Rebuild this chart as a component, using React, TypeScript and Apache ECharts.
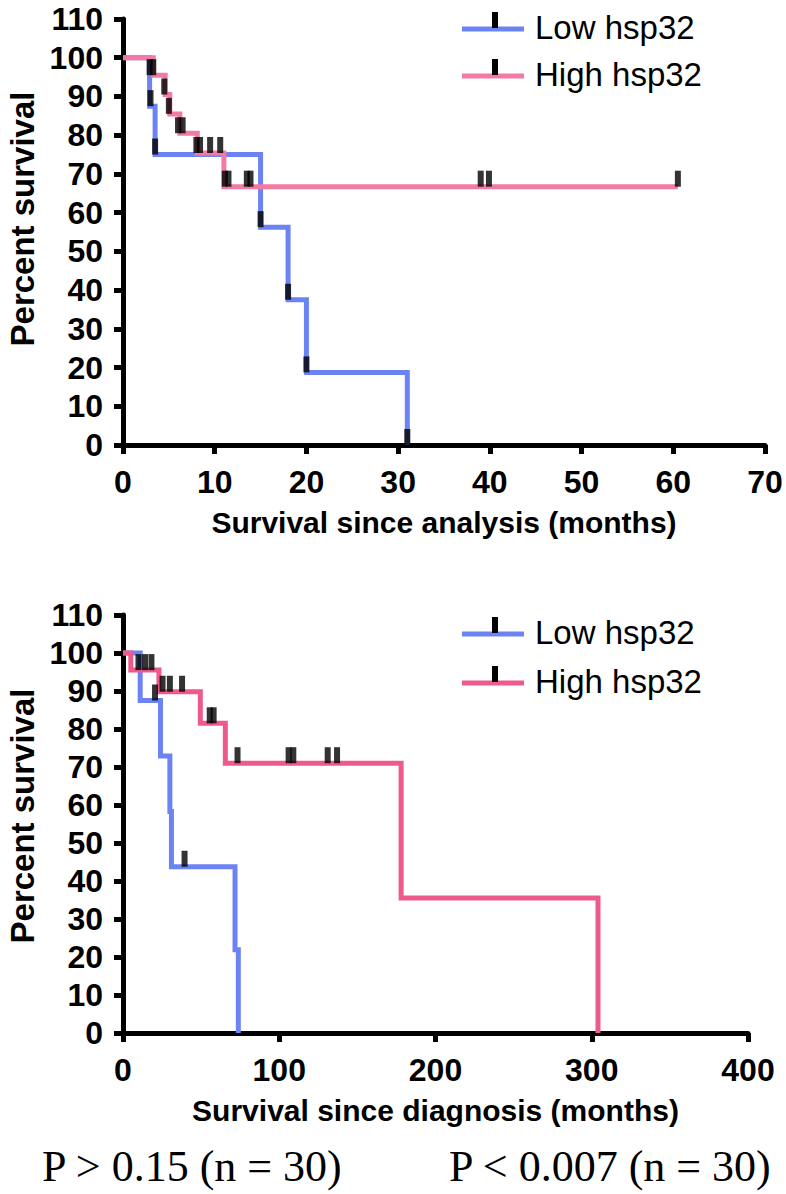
import React, { useEffect, useRef } from "react";
import * as echarts from "echarts";

// ---- Data: survival since analysis (top) ----
const lowAnalysisT = [0, 2.9, 3.5, 15, 18, 20, 31];
const lowAnalysisS = [100, 87.5, 75, 56.25, 37.5, 18.75, 0];
const highAnalysisT = [0, 3.3, 4.6, 5.1, 6.2, 8.1, 11, 60.5];
const highAnalysisS = [100, 95.5, 90.5, 85.5, 80.5, 75.4, 66.7, 66.7];
const lowAnalysisCensT = [3.0, 3.5, 15, 18, 20, 31];
const lowAnalysisCensS = [87.5, 75, 56.25, 37.5, 18.75, 0];
const highAnalysisCensT = [2.9, 3.3, 4.5, 5.0, 6.0, 6.5, 8.0, 8.4, 9.5, 10.6, 11.1, 11.5, 13.5, 13.9, 39.0, 39.9, 60.5];
const highAnalysisCensS = [95.5, 95.5, 90.5, 85.5, 80.5, 80.5, 75.4, 75.4, 75.4, 75.4, 66.7, 66.7, 66.7, 66.7, 66.7, 66.7, 66.7];

// ---- Data: survival since diagnosis (bottom) ----
const lowDiagT = [0, 11, 24, 30, 31, 71.7, 73.8];
const lowDiagS = [100, 87.5, 72.9, 58.3, 43.75, 21.9, 0];
const highDiagT = [0, 5, 23, 49.5, 65.5, 178, 304];
const highDiagS = [100, 95.5, 89.8, 81.5, 71, 35.5, 0];
const lowDiagCensT = [20.5, 39.4];
const lowDiagCensS = [87.5, 43.75];
const highDiagCensT = [9.9, 14.1, 18.2, 25.3, 30, 37.8, 55.5, 58, 73.3, 106, 109, 131, 137];
const highDiagCensS = [95.5, 95.5, 95.5, 89.8, 89.8, 89.8, 81.5, 81.5, 71, 71, 71, 71, 71];

const seriesNames = ["Low hsp32", "High hsp32"];
const xTitles = ["Survival since analysis (months)", "Survival since diagnosis (months)"];
const yTitle = "Percent survival";
const pValues = ["P > 0.15 (n = 30)", "P < 0.007 (n = 30)"];

const BLUE = "#6C83F4";
const PINK_TOP = "#F27BA6";
const PINK_BOTTOM = "#EF5A8E";

const zip = (t: number[], s: number[]) => t.map((v, i) => [v, s[i]]);

const FONT = "'Liberation Sans', Arial, Helvetica, sans-serif";
const SERIF = "'Liberation Serif', 'Times New Roman', serif";

function axisCommon(isY: boolean) {
  return {
    axisLine: { show: true, onZero: false, lineStyle: { color: "#000", width: 5 } },
    axisTick: { show: true, length: 9, lineStyle: { color: "#000", width: 5 } },
    axisLabel: {
      color: "#000",
      fontSize: 32,
      fontWeight: "bold",
      fontFamily: FONT,
      margin: isY ? 20 : 21,
    },
    splitLine: { show: false },
  };
}

function yName(shift: number) {
  return {
    color: "#000",
    fontSize: 33,
    fontWeight: "bold",
    fontFamily: FONT,
    padding: [0, 0, 0, shift],
  };
}

const xName = { color: "#000", fontSize: 30, fontWeight: "bold", fontFamily: FONT };

function stepLine(name: string, data: number[][], color: string, idx: number) {
  return {
    type: "line",
    name,
    xAxisIndex: idx,
    yAxisIndex: idx,
    step: "end",
    data,
    showSymbol: false,
    symbol: "none",
    clip: false,
    lineStyle: { color, width: 5, join: "miter" },
    z: 2,
  };
}

function censor(data: number[][], idx: number) {
  return {
    type: "scatter",
    xAxisIndex: idx,
    yAxisIndex: idx,
    data,
    symbol: "rect",
    symbolSize: [6, 16],
    symbolOffset: [0, -8],
    itemStyle: { color: "#000" },
    clip: false,
    z: 5,
  };
}

function legendGraphics(y0: number, gap: number, pink: string) {
  const items: any[] = [];
  const colors = [BLUE, pink];
  seriesNames.forEach((n, i) => {
    const y = y0 + i * gap;
    items.push({
      type: "line",
      shape: { x1: 462, y1: y, x2: 524, y2: y },
      style: { stroke: colors[i], lineWidth: 5 },
    });
    items.push({
      type: "rect",
      shape: { x: 492, y: y - 17, width: 6, height: 16 },
      style: { fill: "#000" },
    });
    items.push({
      type: "text",
      x: 535,
      y: y - 2,
      style: {
        text: n,
        fill: "#000",
        font: `33px ${FONT}`,
        verticalAlign: "middle",
      },
    });
  });
  return items;
}

export default function App() {
  const ref = useRef<HTMLDivElement>(null);
  useEffect(() => {
    if (!ref.current) return;
    const chart = echarts.init(ref.current, null, { renderer: "svg" });
    const option: any = {
      animation: false,
      backgroundColor: "#fff",
      grid: [
        { left: 123, top: 19, width: 642, height: 426, containLabel: false, outerBoundsMode: "none" },
        { left: 123, top: 615, width: 625, height: 418, containLabel: false, outerBoundsMode: "none" },
      ],
      xAxis: [
        {
          ...axisCommon(false),
          gridIndex: 0,
          type: "value",
          min: 0,
          max: 70,
          interval: 10,
          name: xTitles[0],
          nameLocation: "middle",
          nameGap: 62,
          nameTextStyle: xName,
        },
        {
          ...axisCommon(false),
          gridIndex: 1,
          type: "value",
          min: 0,
          max: 400,
          interval: 100,
          name: xTitles[1],
          nameLocation: "middle",
          nameGap: 62,
          nameTextStyle: xName,
        },
      ],
      yAxis: [
        {
          ...axisCommon(true),
          gridIndex: 0,
          type: "value",
          min: 0,
          max: 110,
          interval: 10,
          name: yTitle,
          nameLocation: "middle",
          nameGap: 84,
          nameTextStyle: yName(26),
        },
        {
          ...axisCommon(true),
          gridIndex: 1,
          type: "value",
          min: 0,
          max: 110,
          interval: 10,
          name: yTitle,
          nameLocation: "middle",
          nameGap: 84,
          nameTextStyle: yName(16),
        },
      ],
      series: [
        stepLine(seriesNames[0], zip(lowAnalysisT, lowAnalysisS), BLUE, 0),
        stepLine(seriesNames[1], zip(highAnalysisT, highAnalysisS), PINK_TOP, 0),
        censor(zip(lowAnalysisCensT, lowAnalysisCensS), 0),
        censor(zip(highAnalysisCensT, highAnalysisCensS), 0),
        stepLine(seriesNames[0], zip(lowDiagT, lowDiagS), BLUE, 1),
        stepLine(seriesNames[1], zip(highDiagT, highDiagS), PINK_BOTTOM, 1),
        censor(zip(lowDiagCensT, lowDiagCensS), 1),
        censor(zip(highDiagCensT, highDiagCensS), 1),
      ],
      graphic: [
        ...legendGraphics(29, 47, PINK_TOP),
        ...legendGraphics(634, 49, PINK_BOTTOM),
        {
          type: "text",
          left: 42,
          top: 1144,
          style: { text: pValues[0], fill: "#000", font: `44px ${SERIF}` },
        },
        {
          type: "text",
          left: 449,
          top: 1144,
          style: { text: pValues[1], fill: "#000", font: `44px ${SERIF}` },
        },
      ],
    };
    chart.setOption(option);
    return () => chart.dispose();
  }, []);
  return (
    <div
      ref={ref}
      style={{ position: "absolute", left: 0, top: 0, width: 786, height: 1194 }}
    />
  );
}
